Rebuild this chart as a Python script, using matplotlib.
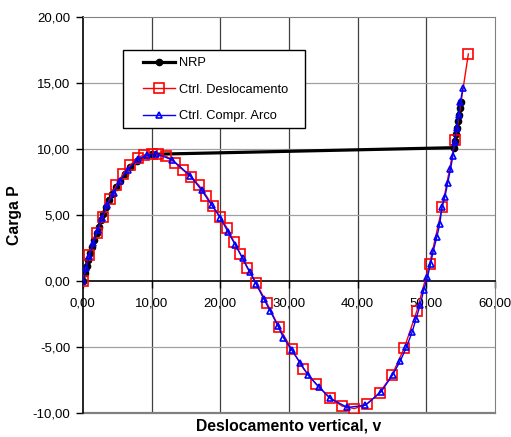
"""Carga P x deslocamento vertical - NRP, controle de deslocamento e comprimento de arco"""
import matplotlib
matplotlib.use('Agg')
import matplotlib.pyplot as plt
from matplotlib.patches import Rectangle
from matplotlib.ticker import FuncFormatter

plt.rcParams['font.family'] = ['Liberation Sans', 'DejaVu Sans']

# NRP (controle de carga)
nrp_v = [0.0, 0.3, 0.55, 0.8, 1.1, 1.37, 1.7, 2.0, 2.3, 2.63, 2.97, 3.35, 3.78,
         4.25, 4.85, 5.45, 6.1, 6.9, 7.85, 10.0,
         54.0, 54.15, 54.3, 54.45, 54.55, 54.7, 54.85, 55.0]
nrp_p = [0.0, 0.6, 1.1, 1.6, 2.1, 2.6, 3.1, 3.6, 4.1, 4.6, 5.1, 5.6, 6.1,
         6.6, 7.1, 7.6, 8.1, 8.6, 9.1, 9.6,
         10.1, 10.6, 11.1, 11.6, 12.1, 12.6, 13.1, 13.6]

# Ctrl. Deslocamento
desl_v = [0.0, 0.9, 2.0, 2.9, 3.9, 4.9, 5.9, 6.9, 8.0, 8.9, 10.0, 11.0, 12.1,
          13.4, 14.6, 15.7, 16.9, 18.0, 18.9, 20.0, 21.0, 22.0, 22.9, 23.9,
          25.2, 26.8, 28.5, 30.4, 32.1, 34.0, 35.9, 37.7, 39.5, 41.3, 43.2,
          45.0, 46.8, 48.6, 50.45, 52.3, 54.2, 56.1]
desl_p = [0.0, 1.95, 3.6, 4.88, 6.19, 7.25, 8.14, 8.77, 9.35, 9.55, 9.62, 9.62, 9.47,
          8.97, 8.4, 7.9, 7.25, 6.44, 5.68, 4.85, 4.0, 2.98, 2.08, 1.02,
          -0.12, -1.69, -3.45, -5.17, -6.64, -7.83, -8.83, -9.47, -9.67, -9.34, -8.45,
          -7.12, -5.05, -2.27, 1.27, 5.6, 10.7, 17.2]

# Ctrl. Compr. Arco
arco_v = [0.0, 0.5, 0.97, 1.52, 2.15, 2.75, 3.55, 4.5, 5.4, 6.55, 8.0, 9.3, 10.67,
          13.05, 15.65, 17.3, 18.75, 20.0, 21.15, 22.2, 23.25, 24.3, 25.25, 26.3,
          27.3, 28.4, 29.2, 30.4, 31.6, 32.8, 34.3, 36.0, 38.5, 41.1, 43.4, 45.1,
          46.2, 47.1, 47.9, 48.5, 49.1, 49.6, 50.15, 50.6, 51.0, 51.5, 51.95,
          52.25, 52.7, 53.1, 53.5, 53.85, 54.1, 54.4, 54.7, 54.95, 55.3]
arco_p = [0.0, 0.97, 1.92, 2.86, 3.86, 4.8, 5.75, 6.67, 7.58, 8.43, 9.22, 9.52, 9.65,
          9.17, 7.97, 6.87, 5.76, 4.8, 3.7, 2.73, 1.72, 0.7, -0.25, -1.33,
          -2.3, -3.42, -4.3, -5.23, -6.18, -7.15, -8.0, -8.9, -9.58, -9.42, -8.4, -7.1,
          -6.06, -5.0, -3.9, -2.85, -1.8, -0.7, 0.3, 1.3, 2.3, 3.3, 4.35,
          5.6, 6.4, 7.45, 8.45, 9.5, 10.5, 11.6, 12.6, 13.6, 14.6]

x_ticks = [0, 10, 20, 30, 40, 50, 60]
y_ticks = [-10, -5, 0, 5, 10, 15, 20]

fig = plt.figure(figsize=(5.11, 4.37), dpi=100, facecolor='w')
ax = fig.add_axes([0.162, 0.055, 0.807, 0.906])

ax.plot(nrp_v, nrp_p, '-o', color='k', lw=2.3, ms=4.5, label='NRP', zorder=3)
ax.plot(desl_v, desl_p, '-s', color='#ff0000', lw=1.0, ms=6.8, mfc='none',
        mew=1.2, label='Ctrl. Deslocamento', zorder=4)
ax.plot(arco_v, arco_p, '-^', color='#0000ff', lw=1.0, ms=5, mfc='none',
        mew=1.2, label='Ctrl. Compr. Arco', zorder=5)

ax.set_xlim(0, 60)
ax.set_ylim(-10, 20)
ax.set_xticks(x_ticks)
ax.set_yticks(y_ticks)
fmt = FuncFormatter(lambda x, pos: ('%.2f' % x).replace('.', ','))
ax.xaxis.set_major_formatter(fmt)
ax.yaxis.set_major_formatter(fmt)

# grid: dark verticals, light horizontals
for xv in x_ticks[1:-1]:
    ax.axvline(xv, color='#404040', lw=0.9, zorder=1)
for yv in [5, 10, 15, -5]:
    ax.axhline(yv, color='#a0a0a0', lw=0.9, zorder=1)

# frame like excel
ax.spines['bottom'].set_position(('data', 0))
ax.spines['bottom'].set_color('k')
ax.spines['bottom'].set_linewidth(1.2)
ax.spines['left'].set_color('k')
ax.spines['left'].set_linewidth(1.2)
ax.spines['top'].set_color('#808080')
ax.spines['right'].set_color('#808080')
ax.axhline(-10, color='#808080', lw=1.6, clip_on=False, zorder=2)

ax.tick_params(axis='both', direction='out', length=5, width=1, labelsize=9.5,
               colors='k')
ax.tick_params(axis='x', pad=7)
ax.tick_params(axis='y', pad=4)

ax.set_xlabel('Deslocamento vertical, v', fontsize=11.3, weight='bold')
ax.xaxis.set_label_coords(0.5, -0.014)
ax.set_ylabel('Carga P', fontsize=11.3, weight='bold')
ax.yaxis.set_label_coords(-0.148, 0.5)

# legend box drawn separately (excel style padding)
ax.add_patch(Rectangle((0.098, 0.72), 0.442, 0.197, transform=ax.transAxes,
                       facecolor='w', edgecolor='k', lw=1.0, zorder=6))
leg = ax.legend(loc='upper left', bbox_to_anchor=(0.146, 0.898), fontsize=9.3,
                frameon=False, borderpad=0, borderaxespad=0,
                handlelength=2.5, labelspacing=1.12, handletextpad=0.25)
leg.set_zorder(7)

fig.savefig('out.png', dpi=100, facecolor=fig.get_facecolor())
